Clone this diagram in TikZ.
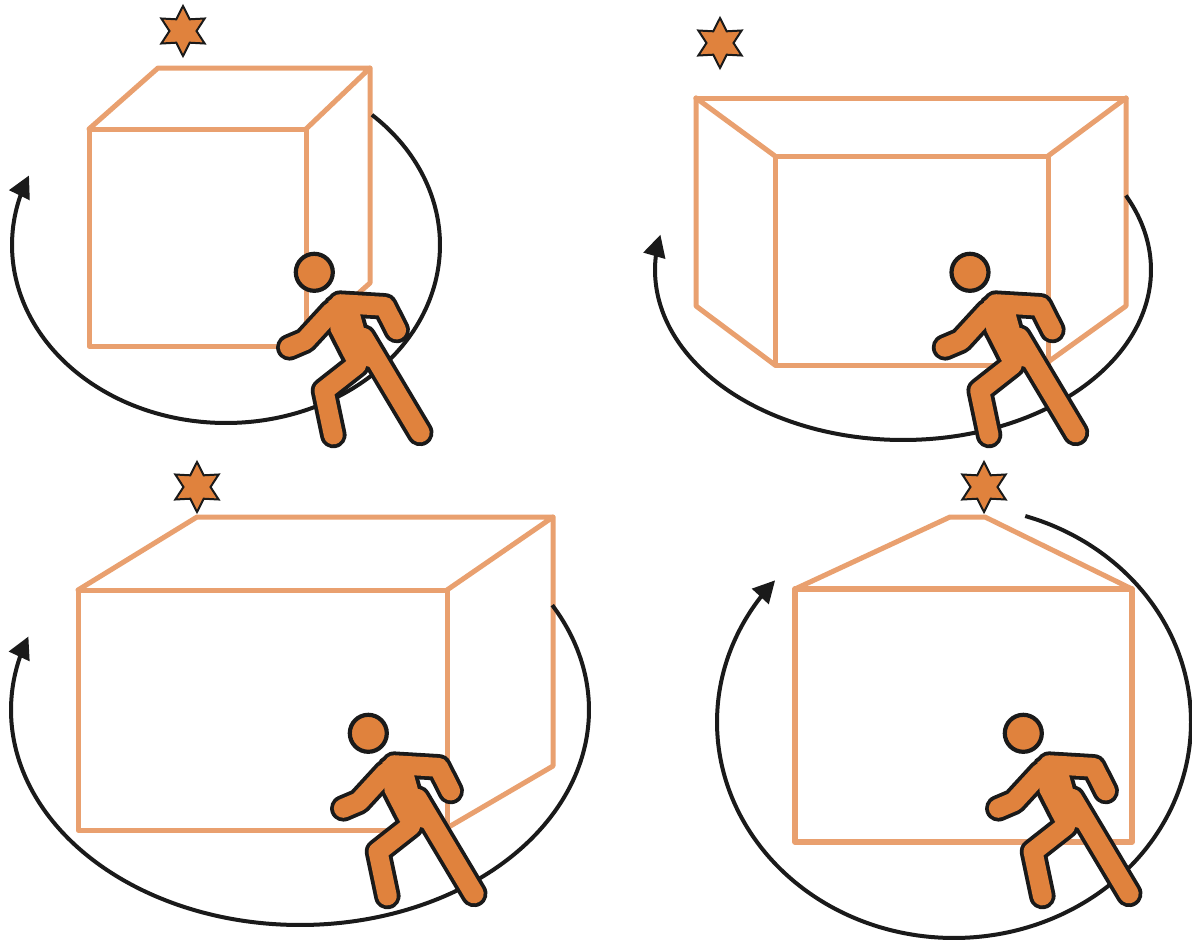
\documentclass[tikz,border=0pt]{standalone}
\usetikzlibrary{arrows.meta}
\definecolor{boxor}{HTML}{E9A06F}
\definecolor{figor}{HTML}{E0823D}
\definecolor{ink}{HTML}{1A1A1A}
\tikzset{
  boxline/.style={draw=boxor,line width=5pt,line join=round,line cap=round},
  orbit/.style={draw=ink,line width=4pt,-{Triangle[length=22pt,width=22pt]}},
  starshape/.style={fill=figor,draw=ink,line width=2pt,line join=miter}
}
% walker parts, in crop coordinates (3 units per pixel)
\newcommand{\walkerleg}{(310,293) -- (480,578)}
\newcommand{\walkerlimbs}{%
  (290,375) -- (192,452) -- (220,585)
  (215,215) -- (135,302) -- (88,322)
  (240,191) -- (374,199) -- (410,270)}
\newcommand{\walkertorso}{(205,185) -- (228,168) -- (305,175) -- (300,222) -- (345,385) -- (258,362) -- (212,272) -- cycle}
\newcommand{\walker}[2]{%
  \begin{scope}[shift={(#1,#2)}]
    \fill[figor,draw=ink,line width=4.2pt] (0,0) circle (18.5pt);
    \begin{scope}[shift={(-54.3,-32.3)},scale=0.3333,line cap=round,line join=round]
      \draw[ink,line width=26.5pt] \walkerlimbs;
      \draw[ink,line width=27pt] \walkerleg;
      \draw[ink,line width=8pt] \walkertorso;
      \fill[figor] \walkertorso;
      \draw[figor,line width=18.9pt] \walkerlimbs;
      \draw[figor,line width=19.4pt] \walkerleg;
    \end{scope}
  \end{scope}}
\newcommand{\sixstar}[2]{%
  \draw[starshape,shift={(#1,#2)}]
    (90:25) -- (60:13.5) -- (30:25) -- (0:13.5) -- (-30:25) -- (-60:13.5) -- (-90:25) -- (-120:13.5) -- (-150:25) -- (180:13.5) -- (150:25) -- (120:13.5) -- cycle;}
% centre x, centre y, radius x, radius y, first angle, last angle
\newcommand{\orbitarc}[6]{%
  \draw[orbit] plot[domain=#5:#6,samples=90,smooth,variable=\t] ({#1+#3*cos(\t)},{#2+#4*sin(\t)});}
\begin{document}
\begin{tikzpicture}[x=1pt,y=-1pt]
\useasboundingbox (0,0) rectangle (1192,945);
\fill[white] (0,0) rectangle (1192,945);
% panel 1
\draw[boxline] (89,129) rectangle (306,346);
\draw[boxline] (89,129) -- (158,68) -- (370,68) -- (306,129);
\draw[boxline] (370,68) -- (370,283) -- (306,340);
\orbitarc{226}{245}{214}{178}{-47}{203}
\walker{314.3}{272.3}
\sixstar{183}{31}
% panel 2
\draw[boxline] (696,98) -- (1126,98);
\draw[boxline] (696,98) -- (696,306) -- (775,365);
\draw[boxline] (1126,98) -- (1126,306) -- (1048,362);
\draw[boxline] (775,156) rectangle (1048,365);
\draw[boxline] (696,98) -- (775,156);
\draw[boxline] (1126,98) -- (1048,156);
\orbitarc{903}{270}{248}{170}{-26}{192}
\walker{970}{272.3}
\sixstar{720}{43}
% panel 3
\draw[boxline] (78,590) rectangle (447,830);
\draw[boxline] (78,590) -- (197,517) -- (553,517) -- (447,590);
\draw[boxline] (553,517) -- (553,766) -- (447,828);
\orbitarc{300}{710}{289}{215}{-29.2}{200}
\walker{368.3}{733.3}
\sixstar{197}{487}
% panel 4
\draw[boxline,line width=5.6pt] (795,589) rectangle (1132,842);
\draw[boxline] (795,589) -- (950,517) -- (985,517) -- (1132,589);
\orbitarc{954}{722}{237}{216}{-72.5}{221}
\walker{1023.3}{733.3}
\sixstar{984}{487}
\end{tikzpicture}
\end{document}
